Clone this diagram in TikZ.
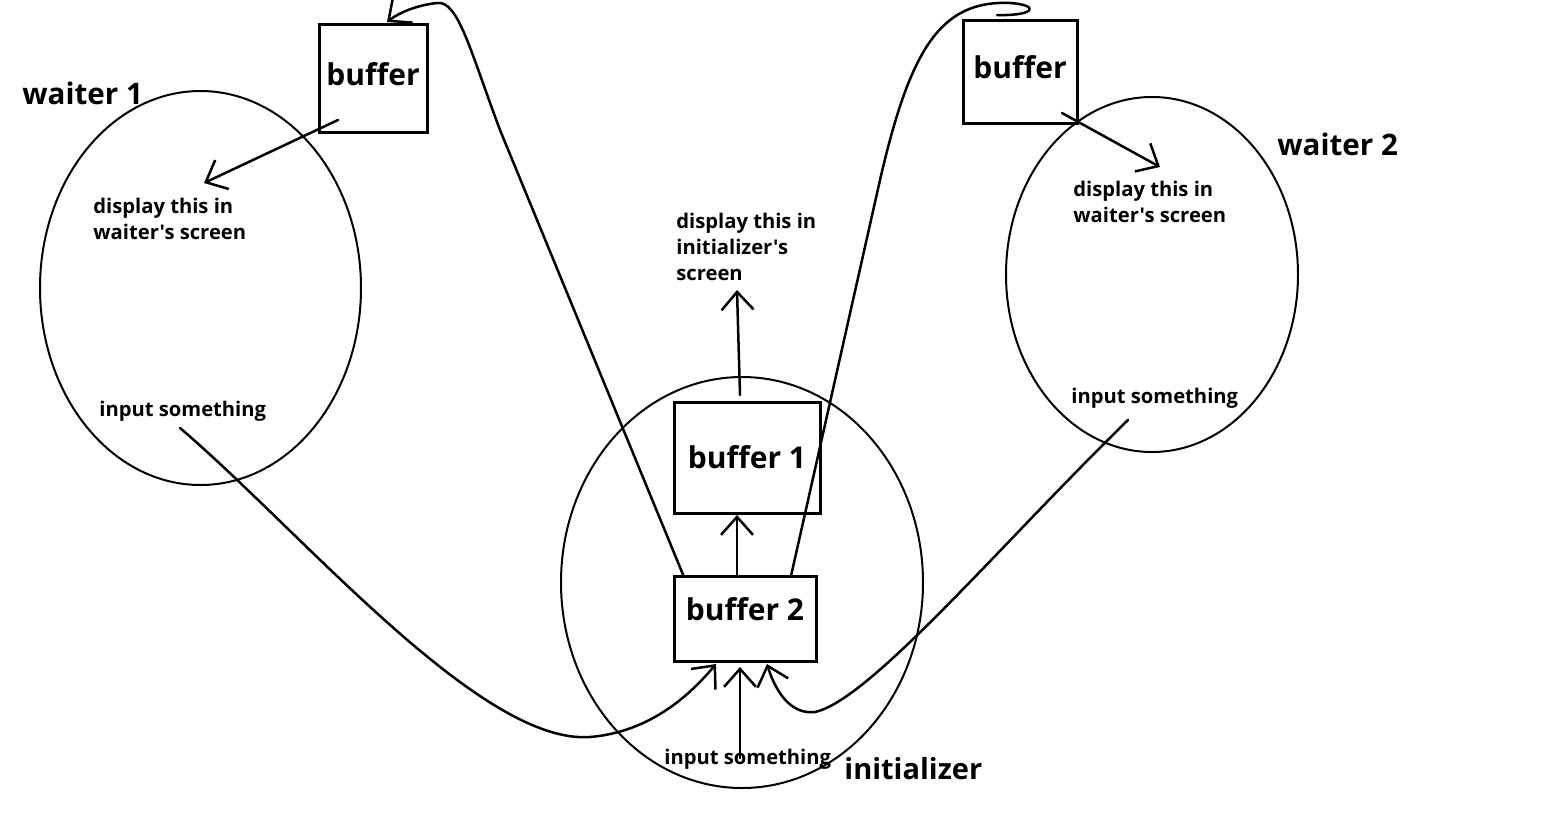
\documentclass[tikz,border=0pt]{standalone}
\usepackage{fontspec}
\setmainfont{Open Sans}[Ligatures=TeXOff]
\usetikzlibrary{shapes.geometric,arrows.meta}
\begin{document}
\begin{tikzpicture}[x=0.5pt,y=-0.5pt,
  ell/.style={draw,ellipse,line width=1pt,inner sep=0pt},
  box/.style={draw,rectangle,line width=1.5pt,inner sep=0pt},
  boxtxt/.style={font=\bfseries\fontsize{15}{18}\selectfont,inner sep=0pt},
  lbl/.style={font=\bfseries\fontsize{10.1}{13.2}\selectfont,align=left,inner sep=0pt,anchor=west},
  ttl/.style={font=\bfseries\fontsize{14.8}{17}\selectfont,inner sep=0pt,anchor=west},
  con/.style={line width=1.25pt,line cap=round,line join=round},
  arr/.style={con,-{Straight Barb[length=9pt,width=16pt,line width=1.25pt]}}]
\useasboundingbox (0,0) rectangle (1560,816);
\fill[white] (0,0) rectangle (1560,816);
% ellipses
\node[ell,minimum width=160.5pt,minimum height=197pt] (w1) at (200.5,288) {};
\node[ell,minimum width=146pt,minimum height=177.5pt] (w2) at (1152,274.5) {};
\node[ell,minimum width=181pt,minimum height=205.5pt] (ini) at (742,582.5) {};
% boxes
\node[box,minimum width=54pt,minimum height=54pt,label={[boxtxt,yshift=2pt]center:buffer}] (bufL) at (373,78) {};
\node[box,minimum width=57pt,minimum height=51.5pt,label={[boxtxt,yshift=2pt]center:buffer}] (bufR) at (1020,71.5) {};
\node[box,minimum width=73pt,minimum height=55.5pt,label={[boxtxt]center:buffer 1}] (buf1) at (747,457.5) {};
\node[box,minimum width=71pt,minimum height=42.5pt,label={[boxtxt,yshift=4.5pt]center:buffer 2}] (buf2) at (745,618.5) {};
% titles
\node[ttl] (t1) at (22,93) {waiter 1};
\node[ttl] (t2) at (1277,144) {waiter 2};
\node[ttl,font=\bfseries\fontsize{14.5}{17}\selectfont] (t3) at (844,769) {initializer};
% labels
\node[lbl] (dL) at (93,219) {display this in\\waiter's screen};
\node[lbl] (iL) at (99,411) {input something};
\node[lbl] (dR) at (1073,202) {display this in\\waiter's screen};
\node[lbl] (iR) at (1071,398) {input something};
\node[lbl] (dI) at (676,247) {display this in\\initializer's\\screen};
\node[lbl] (iI) at (664,759) {input something};
% coordinates
\coordinate (pL1) at (338,120);   \coordinate (tipL) at (204,183);
\coordinate (pR1) at (1062,113);  \coordinate (tipR) at (1160,167);
\coordinate (p1a) at (740,395);   \coordinate (tip1) at (737,290);
\coordinate (p2a) at (737,575);   \coordinate (p2b) at (737,515);
\coordinate (pia) at (740,758);   \coordinate (pib) at (740,667);
\coordinate (s1) at (180,428);    \coordinate (m1) at (590,737);  \coordinate (e1) at (716,664);
\coordinate (s2) at (1128,420);   \coordinate (m2) at (815,712);  \coordinate (e2) at (767,664);
\coordinate (s3) at (684,577);    \coordinate (m3) at (500,130);  \coordinate (e3) at (387,22);
\coordinate (s4) at (791,576);    \coordinate (m4) at (880,180);  \coordinate (e4) at (997,15);
% connectors
\draw[arr] (pL1) -- (tipL);
\draw[arr] (pR1) -- (tipR);
\draw[arr] (p1a) -- (tip1);
\draw[arr] (p2a) -- (p2b);
\draw[arr] (pia) -- (pib);
\draw[arr] (s1) .. controls (300,530) and (480,745) .. (m1) .. controls (650,732) and (690,695) .. (e1);
\draw[arr] (s2) .. controls (1000,545) and (870,700) .. (m2) .. controls (790,715) and (775,690) .. (e2);
\draw[arr] (s3) -- (m3) .. controls (470,50) and (458,0) .. (437,3) .. controls (418,5) and (400,12) .. (e3);
\draw[con] (s4) -- (m4) .. controls (910,50) and (940,0) .. (1010,3) .. controls (1040,5) and (1036,16) .. (e4);
\end{tikzpicture}
\end{document}
